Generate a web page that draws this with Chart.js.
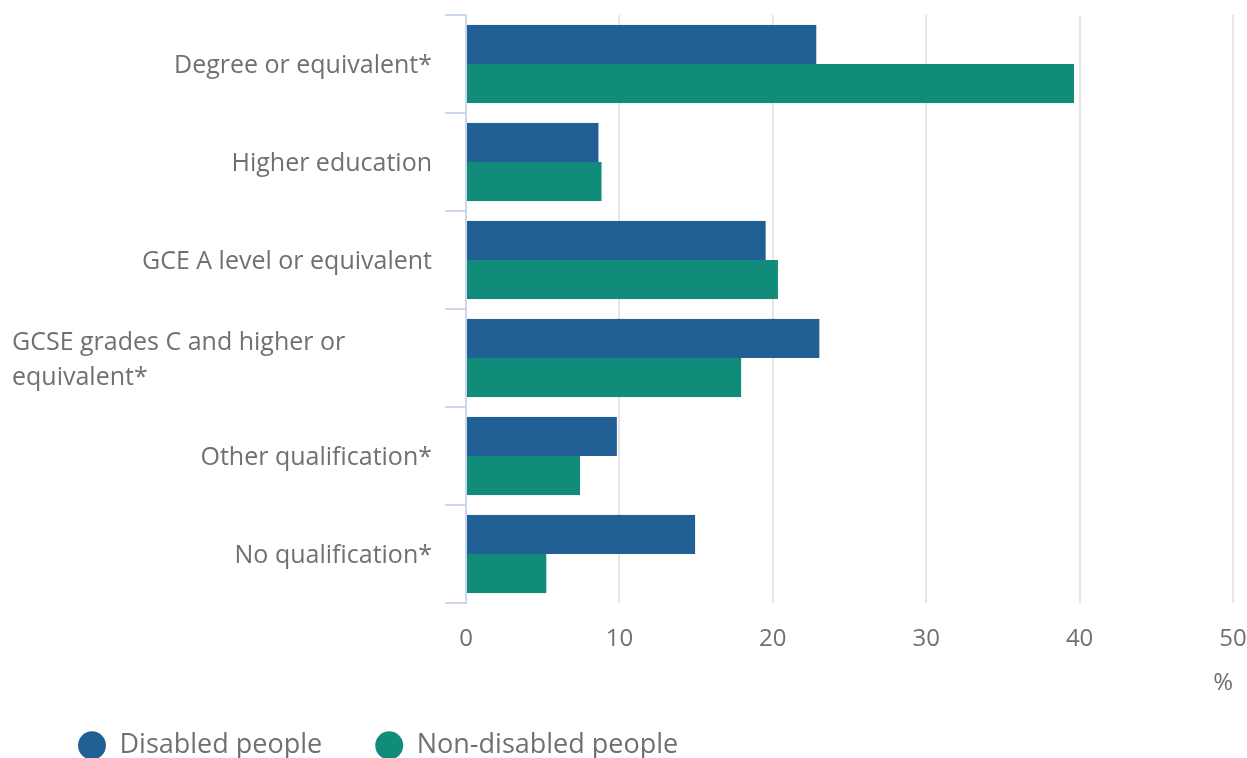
<!DOCTYPE html>
<html>
<head>
<meta charset="utf-8">
<title>Highest qualification by disability status</title>
<script src="https://cdn.jsdelivr.net/npm/chart.js@4"></script>
<style>
  html, body { margin: 0; padding: 0; background: #fff; overflow: hidden; }
</style>
</head>
<body>
<canvas id="chart" width="1247" height="769"></canvas>
<script>
'use strict';

const CATEGORIES = [
  'Degree or equivalent*',
  'Higher education',
  'GCE A level or equivalent',
  ['GCSE grades C and higher or', 'equivalent*'],
  'Other qualification*',
  'No qualification*'
];
const DISABLED = [22.9, 8.7, 19.6, 23.1, 9.9, 15.0];
const NON_DISABLED = [39.7, 8.9, 20.4, 18.0, 7.5, 5.3];
const SERIES_NAMES = ['Disabled people', 'Non-disabled people'];
const SERIES_COLORS = ['#206095', '#118c7b'];
const X_TICKS = [0, 10, 20, 30, 40, 50];
const X_UNIT = '%';

const TEXT_COLOR = '#707070';
const LABEL_SIZE = 25;
const LINE_HEIGHT = 35;

Chart.defaults.font.family = '"Open Sans", sans-serif';

// Category names are drawn by hand so wrapped ones can hang from the left edge
const categoryLabels = {
  id: 'categoryLabels',
  afterDraw(chart) {
    const scale = chart.scales.y;
    const ctx = chart.ctx;
    ctx.save();
    ctx.font = `${LABEL_SIZE}px "Open Sans", sans-serif`;
    ctx.fillStyle = TEXT_COLOR;
    ctx.textBaseline = 'middle';
    CATEGORIES.forEach((label, i) => {
      const y = scale.getPixelForTick(i) + 2;
      if (Array.isArray(label)) {
        ctx.textAlign = 'left';
        const top = y - (label.length - 1) * LINE_HEIGHT / 2;
        label.forEach((line, j) => ctx.fillText(line, 12, top + j * LINE_HEIGHT));
      } else {
        ctx.textAlign = 'right';
        ctx.fillText(label, scale.right - 34, y);
      }
    });
    ctx.restore();
  }
};

const datasets = [DISABLED, NON_DISABLED].map((values, i) => ({
  label: SERIES_NAMES[i],
  data: values,
  backgroundColor: SERIES_COLORS[i],
  borderColor: 'rgba(255,255,255,0.25)',
  borderWidth: { top: 0, right: 1, bottom: 0, left: 0 },
  categoryPercentage: 0.8,
  barPercentage: 1
}));

new Chart(document.getElementById('chart'), {
  type: 'bar',
  data: { labels: CATEGORIES, datasets },
  options: {
    indexAxis: 'y',
    responsive: false,
    animation: false,
    layout: { padding: { top: 15, left: 25, right: 14, bottom: 0 } },
    scales: {
      x: {
        min: 0,
        max: 50,
        afterBuildTicks: scale => { scale.ticks = X_TICKS.map(v => ({ value: v })); },
        afterFit: scale => {
          scale.height = 76;
          // the "50" label may overhang the right edge
          scale.paddingLeft = 0;
          scale.paddingRight = 0;
        },
        grid: { color: '#e6e6e6', lineWidth: 2, drawTicks: false },
        border: { display: false },
        ticks: { color: TEXT_COLOR, font: { size: 24 }, padding: 22 },
        title: {
          display: true,
          text: X_UNIT,
          align: 'end',
          color: TEXT_COLOR,
          font: { size: 24 },
          padding: { top: 0, bottom: -19 }
        }
      },
      y: {
        afterFit: scale => { scale.width = 441; },
        grid: { drawOnChartArea: false, color: '#ccd6eb', lineWidth: 2, tickLength: 21, offset: true },
        border: { color: '#ccd6eb', width: 2 },
        ticks: { display: false }
      }
    },
    plugins: {
      legend: {
        position: 'bottom',
        align: 'start',
        labels: {
          usePointStyle: true,
          pointStyle: 'circle',
          pointStyleWidth: 28,
          boxHeight: 20,
          padding: 53,
          color: TEXT_COLOR,
          font: { size: 27 }
        }
      },
      tooltip: { enabled: false }
    }
  },
  plugins: [categoryLabels]
});
</script>
</body>
</html>
